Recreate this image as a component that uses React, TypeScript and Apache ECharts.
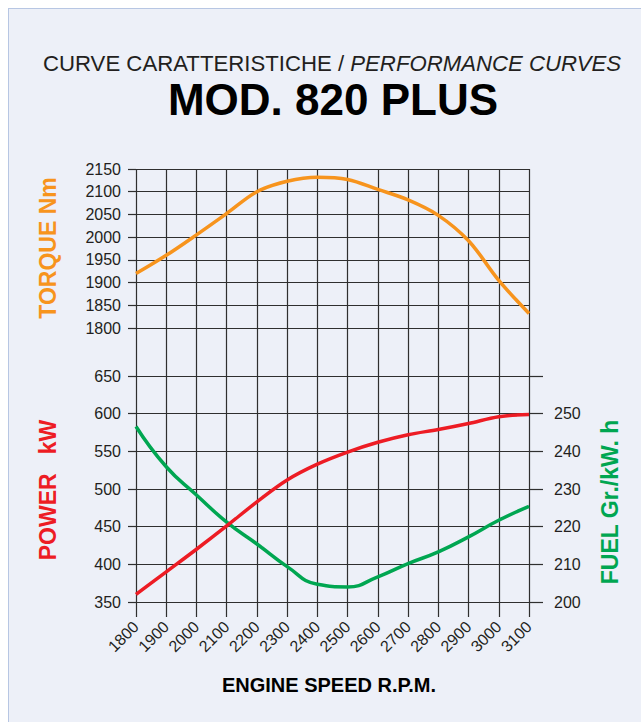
import React, { useEffect, useRef } from "react";
import * as echarts from "echarts";

const rpm = [1800, 1900, 2000, 2100, 2200, 2300, 2400, 2500, 2600, 2700, 2800, 2900, 3000, 3100];
const torqueNm = [1920, 1960, 2005, 2052, 2100, 2123, 2132, 2127, 2105, 2082, 2048, 1992, 1905, 1832];
const powerKW = [360, 390, 420, 451, 483, 512, 533, 549, 562, 572, 579, 587, 596, 599];
const fuelGkWh = [246.6, 235.9, 228.4, 221.2, 215.4, 209.4, 204.7, 204.0, 206.7, 210.2, 213.3, 217.3, 221.7, 225.4];

const FONT = "'Liberation Sans', Arial, Helvetica, sans-serif";
const GRID_COLOR = "#2f2f2f";
const LABEL_COLOR = "#231f20";
const ORANGE = "#f7941d";
const RED = "#ed1c24";
const GREEN = "#00a651";

export default function App() {
  const ref = useRef<HTMLDivElement>(null);
  useEffect(() => {
    if (!ref.current) return;
    const chart = echarts.init(ref.current, undefined, { renderer: "svg" });
    const pairs = (vals: number[]) => rpm.map((r, i) => [r, vals[i]]);
    const lineStyle = { color: GRID_COLOR, width: 1.2 };
    const plain = (v: number) => String(v);
    const tickLabel = { fontSize: 16, color: LABEL_COLOR, fontFamily: FONT, formatter: plain };
    const hiddenX = (gi: number) => ({
      gridIndex: gi, type: "value", min: 1800, max: 3100, interval: 100, show: false,
    });
    const option: any = {
      animation: false,
      backgroundColor: "#edf0f8",
      grid: [
        { left: 128, top: 161, width: 393, height: 448 },
        { left: 128, top: 161, width: 393, height: 159 },
        { left: 128, top: 368, width: 393, height: 226 },
      ],
      xAxis: [
        {
          gridIndex: 0, type: "value", min: 1800, max: 3100, interval: 100,
          axisLine: { show: false }, axisTick: { show: false },
          splitLine: { show: true, lineStyle },
          axisLabel: { ...tickLabel, rotate: 45, margin: 7 },
        },
        hiddenX(1),
        hiddenX(2),
      ],
      yAxis: [
        { gridIndex: 0, type: "value", min: 0, max: 1, show: false },
        {
          gridIndex: 1, type: "value", min: 1800, max: 2150, interval: 50,
          axisLine: { show: false },
          axisTick: { show: true, length: 8, lineStyle },
          splitLine: { show: true, lineStyle },
          axisLabel: { ...tickLabel, margin: 15 },
        },
        {
          gridIndex: 2, type: "value", min: 350, max: 650, interval: 50,
          axisLine: { show: false },
          axisTick: { show: true, length: 8, lineStyle },
          splitLine: { show: true, lineStyle },
          axisLabel: { ...tickLabel, margin: 15 },
        },
        {
          gridIndex: 2, type: "value", position: "right", min: 200, max: 260, interval: 10,
          axisLine: { show: false },
          axisTick: { show: true, length: 14, lineStyle },
          splitLine: { show: false },
          axisLabel: { ...tickLabel, margin: 25, formatter: (v: number) => (v === 260 ? "" : String(v)) },
        },
      ],
      series: [
        {
          type: "line", xAxisIndex: 1, yAxisIndex: 1, data: pairs(torqueNm),
          smooth: 0.35, symbol: "none", lineStyle: { color: ORANGE, width: 3.5 }, z: 5,
        },
        {
          type: "line", xAxisIndex: 2, yAxisIndex: 3, data: pairs(fuelGkWh),
          smooth: 0.5, symbol: "none", lineStyle: { color: GREEN, width: 3.5 }, z: 5,
        },
        {
          type: "line", xAxisIndex: 2, yAxisIndex: 2, data: pairs(powerKW),
          smooth: 0.35, symbol: "none", lineStyle: { color: RED, width: 3.5 }, z: 6,
        },
      ],
      graphic: [
        { type: "line", shape: { x1: 0.5, y1: 0, x2: 0.5, y2: 714 }, style: { stroke: "#b7c6e3", lineWidth: 1 } },
        { type: "line", shape: { x1: 0, y1: 0.5, x2: 633, y2: 0.5 }, style: { stroke: "#b7c6e3", lineWidth: 1 } },
        {
          type: "text", x: 324, y: 55,
          style: {
            text: "{a|CURVE CARATTERISTICHE / }{b|PERFORMANCE CURVES}",
            align: "center", verticalAlign: "middle",
            rich: {
              a: { fontSize: 22.2, fontFamily: FONT, fill: "#231f20" },
              b: { fontSize: 22.2, fontFamily: FONT, fontStyle: "italic", fill: "#231f20" },
            },
          },
        },
        {
          type: "text", x: 325, y: 91,
          style: {
            text: "MOD. 820 PLUS", fontSize: 44, fontWeight: "bold", fontFamily: FONT,
            fill: "#000", align: "center", verticalAlign: "middle",
          },
        },
        {
          type: "text", x: 321, y: 677,
          style: {
            text: "ENGINE SPEED R.P.M.", fontSize: 20, fontWeight: "bold", fontFamily: FONT,
            fill: "#000", align: "center", verticalAlign: "middle",
          },
        },
        {
          type: "text", x: 40, y: 240, rotation: Math.PI / 2,
          style: {
            text: "TORQUE Nm", fontSize: 23, fontWeight: "bold", fontFamily: FONT,
            fill: ORANGE, align: "center", verticalAlign: "middle",
          },
        },
        {
          type: "text", x: 40, y: 482, rotation: Math.PI / 2,
          style: {
            text: "POWER   kW", fontSize: 23, fontWeight: "bold", fontFamily: FONT,
            fill: RED, align: "center", verticalAlign: "middle",
          },
        },
        {
          type: "text", x: 602, y: 494, rotation: Math.PI / 2,
          style: {
            text: "FUEL Gr./kW. h", fontSize: 23, fontWeight: "bold", fontFamily: FONT,
            fill: GREEN, align: "center", verticalAlign: "middle",
          },
        },
      ],
    };
    chart.setOption(option);
    return () => chart.dispose();
  }, []);
  return (
    <div
      ref={ref}
      style={{ position: "fixed", left: 8, top: 8, width: 633, height: 714 }}
    />
  );
}
